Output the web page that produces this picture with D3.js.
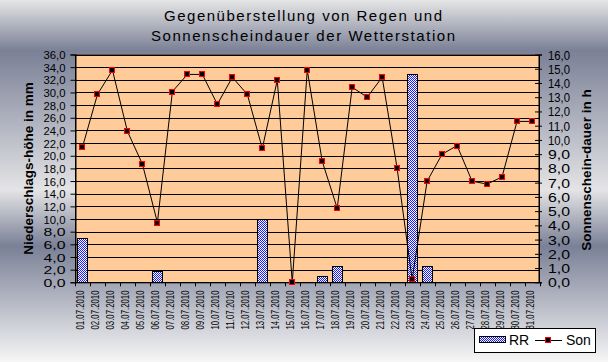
<!DOCTYPE html>
<html><head><meta charset="utf-8">
<script src="https://cdn.jsdelivr.net/npm/d3@7"></script>
<style>
html,body{margin:0;padding:0;background:#fff;}
svg{display:block;}
text{font-family:"Liberation Sans",Arial,sans-serif;fill:#000;}
.narrow{font-family:"Liberation Sans Narrow","Arial Narrow","Liberation Sans",Arial,sans-serif;}
</style></head>
<body>
<svg id="c" width="608" height="362"></svg>
<script>
const categories = ["01.07.2010","02.07.2010","03.07.2010","04.07.2010","05.07.2010","06.07.2010","07.07.2010","08.07.2010","09.07.2010","10.07.2010","11.07.2010","12.07.2010","13.07.2010","14.07.2010","15.07.2010","16.07.2010","17.07.2010","18.07.2010","19.07.2010","20.07.2010","21.07.2010","22.07.2010","23.07.2010","24.07.2010","25.07.2010","26.07.2010","27.07.2010","28.07.2010","29.07.2010","30.07.2010","31.07.2010"];
const rain = [7.0,0,0,0,0,1.8,0,0,0,0,0,0,10.0,0,0,0,1.0,2.5,0,0,0,0,32.9,2.5,0,0,0,0,0,0,0];
const sun = [9.5,13.2,14.9,10.6,8.3,4.2,13.4,14.6,14.6,12.5,14.4,13.2,9.4,14.2,0.0,14.9,8.5,5.2,13.7,13.0,14.4,8.0,0.2,7.1,9.0,9.6,7.1,6.9,7.4,11.3,11.3];
const leftTicks = d3.range(0, 37, 2);
const rightTicks = d3.range(0, 17, 1);
const titleLines = ["Gegenüberstellung von Regen und","Sonnenscheindauer der Wetterstation"];
const leftTitle = "Niederschlags-höhe in mm";
const rightTitle = "Sonnenschein-dauer in h";
const seriesNames = ["RR","Son"];

const W = 608, H = 362;
const pl = 75, pr = 539.5, pt = 54.5, pb = 282.3;
const svg = d3.select("#c");
const defs = svg.append("defs");

// background gradient
const g = defs.append("linearGradient").attr("id","bg").attr("x1",0).attr("y1",0).attr("x2",0).attr("y2",1);
[[0,"#e6e6e6"],[0.14,"#7a8096"],[0.525,"#e4e4e6"],[0.68,"#7a8096"],[1,"#f6f6f6"]]
  .forEach(([o,c]) => g.append("stop").attr("offset",o).attr("stop-color",c));
svg.append("rect").attr("width",W).attr("height",H).attr("fill","url(#bg)");

// checker pattern
const p = defs.append("pattern").attr("id","chk").attr("width",2).attr("height",2).attr("patternUnits","userSpaceOnUse");
p.append("rect").attr("width",2).attr("height",2).attr("fill","#ffffff");
p.append("rect").attr("x",0).attr("y",0).attr("width",1).attr("height",1).attr("fill","#1a1aff");
p.append("rect").attr("x",1).attr("y",1).attr("width",1).attr("height",1).attr("fill","#1a1aff");

const x = d3.scaleBand().domain(categories).range([pl, pr]).padding(0);
const yL = d3.scaleLinear().domain([0,36]).range([pb, pt]);
const yR = d3.scaleLinear().domain([0,16]).range([pb, pt]);

// plot area
svg.append("rect").attr("x",pl).attr("y",pt).attr("width",pr-pl).attr("height",pb-pt).attr("fill","#ffcc99");

// gridlines
svg.append("g").selectAll("line").data(leftTicks).join("line")
  .attr("x1",pl).attr("x2",pr).attr("y1",d=>Math.round(yL(d))+0.5).attr("y2",d=>Math.round(yL(d))+0.5)
  .attr("stroke","#000").attr("stroke-width",1);

// bars
const bw = x.bandwidth()*0.667;
svg.append("g").selectAll("rect").data(categories.map((c,i)=>({c,v:rain[i]})).filter(d=>d.v>0)).join("rect")
  .attr("x",d=>Math.round(x(d.c)+(x.bandwidth()-bw)/2)+0.5)
  .attr("y",d=>Math.round(yL(d.v))+0.5)
  .attr("width",Math.round(bw))
  .attr("height",d=>Math.round(yL(0))-Math.round(yL(d.v)))
  .attr("fill","url(#chk)").attr("stroke","#000").attr("stroke-width",1);

// plot border
svg.append("rect").attr("x",pl+0.5).attr("y",pt+0.5).attr("width",pr-pl-1).attr("height",pb-pt)
  .attr("fill","none").attr("stroke","#000").attr("stroke-width",1);

// left axis
const fmt = d => d.toFixed(1).replace(".",",");
const ax = svg.append("g").attr("transform",`translate(${pl+0.5},0)`)
  .call(d3.axisLeft(yL).tickValues(leftTicks).tickFormat(fmt).tickSize(5).tickPadding(5));
ax.select(".domain").attr("stroke","#000");
ax.selectAll(".tick line").attr("stroke","#000").attr("x2",-5).attr("x1",1);
ax.selectAll("text").attr("class","narrow").style("font-size","11.5px").attr("font-family",null)
  .attr("textLength",22).attr("lengthAdjust","spacingAndGlyphs").attr("dy","0.36em");

// right axis
const ar = svg.append("g").attr("transform",`translate(${pr-0.5},0)`)
  .call(d3.axisRight(yR).tickValues(rightTicks).tickFormat(fmt).tickSize(3).tickPadding(6));
ar.select(".domain").attr("stroke","#000");
ar.selectAll(".tick line").attr("stroke","#000").attr("x1",-4).attr("x2",3);
ar.selectAll("text").attr("class","narrow").style("font-size","12.5px").attr("font-family",null)
  .attr("textLength",22).attr("lengthAdjust","spacingAndGlyphs").attr("dy","0.36em");

// bottom category ticks at boundaries
const step = x.step();
svg.append("g").selectAll("line").data(d3.range(categories.length+1)).join("line")
  .attr("x1",i=>Math.round(x.range()[0]+i*step)+0.5).attr("x2",i=>Math.round(x.range()[0]+i*step)+0.5)
  .attr("y1",pb).attr("y2",pb+4).attr("stroke","#000");
// bottom labels
svg.append("g").selectAll("text").data(categories).join("text")
  .attr("class","narrow")
  .attr("transform",d=>`translate(${x(d)+x.bandwidth()/2+1.5},290.5) rotate(-90)`)
  .attr("text-anchor","end")
  .style("font-size","10.5px")
  .attr("textLength",39).attr("lengthAdjust","spacingAndGlyphs")
  .text(d=>d);

// line
const line = d3.line().x((d,i)=>x(categories[i])+x.bandwidth()/2).y(d=>yR(d));
svg.append("path").datum(sun).attr("d",line).attr("fill","none").attr("stroke","#000").attr("stroke-width",1);
svg.append("g").selectAll("rect").data(sun).join("rect")
  .attr("x",(d,i)=>Math.round(x(categories[i])+x.bandwidth()/2)-2.5)
  .attr("y",d=>Math.round(yR(d))-2.5)
  .attr("width",5).attr("height",5)
  .attr("fill","#000").attr("stroke","#ff0000").attr("stroke-width",1);

// title
svg.append("g").selectAll("text").data(titleLines).join("text")
  .attr("x",303).attr("y",(d,i)=>20.5+i*20).attr("text-anchor","middle")
  .style("font-size","15px")
  .attr("textLength",(d,i)=>i===0?278:304)
  .text(d=>d);

// axis titles
svg.append("text").attr("transform",`translate(33,168.5) rotate(-90)`).attr("text-anchor","middle")
  .style("font-size","13.5px").style("font-weight","bold").text(leftTitle);
svg.append("text").attr("transform",`translate(590.5,170) rotate(-90)`).attr("text-anchor","middle")
  .style("font-size","13.5px").style("font-weight","bold").text(rightTitle);

// legend
const lg = svg.append("g");
lg.append("rect").attr("x",474.5).attr("y",328.5).attr("width",121).attr("height",24).attr("fill","#fff").attr("stroke","#000");
lg.append("rect").attr("x",479.5).attr("y",336.5).attr("width",26).attr("height",6).attr("fill","url(#chk)").attr("stroke","#000");
lg.append("text").attr("x",509).attr("y",345).style("font-size","14px").text(seriesNames[0]);
lg.append("line").attr("x1",535).attr("x2",562).attr("y1",340.5).attr("y2",340.5).attr("stroke","#000");
lg.append("rect").attr("x",545.5).attr("y",337.5).attr("width",5).attr("height",5).attr("fill","#000").attr("stroke","#ff0000");
lg.append("text").attr("x",566).attr("y",345).style("font-size","14px").text(seriesNames[1]);
</script>
</body></html>
